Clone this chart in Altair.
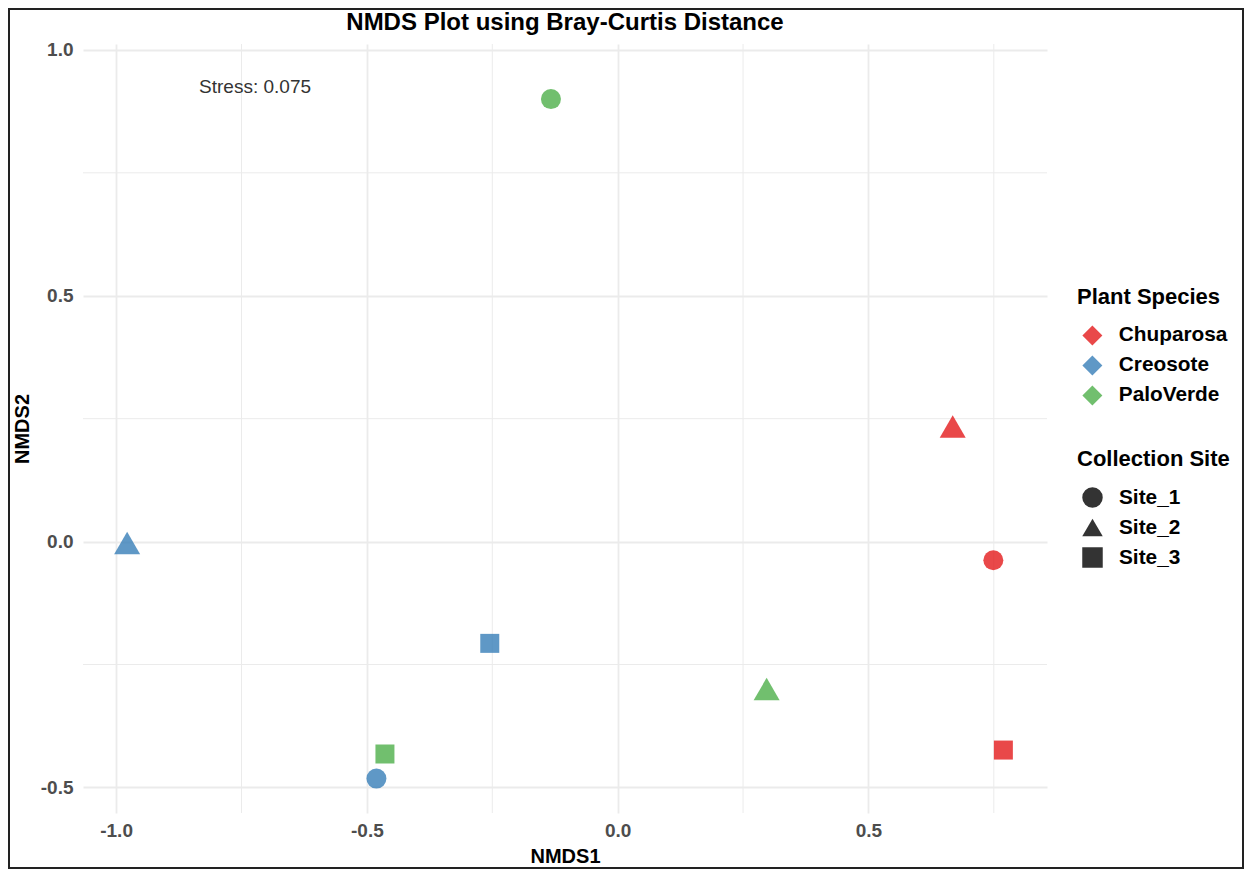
import altair as alt
import pandas as pd

# ---- data ----
species = ["Chuparosa", "Chuparosa", "Chuparosa",
           "Creosote", "Creosote", "Creosote",
           "PaloVerde", "PaloVerde", "PaloVerde"]
sites = ["Site_1", "Site_2", "Site_3"] * 3
nmds1 = [0.749, 0.668, 0.769, -0.481, -0.978, -0.255, -0.133, 0.297, -0.464]
nmds2 = [-0.038, 0.234, -0.424, -0.482, -0.003, -0.207, 0.900, -0.300, -0.432]

species_order = ["Chuparosa", "Creosote", "PaloVerde"]
species_colors = ["#E41A1C", "#377EB8", "#4DAF4A"]
site_order = ["Site_1", "Site_2", "Site_3"]
site_shapes = ["circle", "triangle-up", "square"]

x_major = [-1.0, -0.5, 0.0, 0.5]
x_minor = [-0.75, -0.25, 0.25, 0.75]
y_major = [-0.5, 0.0, 0.5, 1.0]
y_minor = [-0.25, 0.25, 0.75]
x_domain = [-1.066, 0.856]
y_domain = [-0.552, 1.012]

stress_x = [-0.723]
stress_y = [0.925]
stress_text = ["Stress: 0.075"]
title_text = ["NMDS Plot using Bray-Curtis Distance"]

FONT = "Liberation Sans"
W, H = 964, 769

df = pd.DataFrame({"NMDS1": nmds1, "NMDS2": nmds2,
                   "Species": species, "Site": sites})

xs = alt.Scale(domain=x_domain, nice=False, zero=False)
ys = alt.Scale(domain=y_domain, nice=False, zero=False)

label_expr = "(datum.value < 0 ? '-' : '') + format(abs(datum.value), '.1f')"

minor_x = alt.Chart(pd.DataFrame({"v": x_minor})).mark_rule(
    color="#EBEBEB", strokeWidth=1
).encode(x=alt.X("v:Q", scale=xs))

minor_y = alt.Chart(pd.DataFrame({"v": y_minor})).mark_rule(
    color="#EBEBEB", strokeWidth=1
).encode(y=alt.Y("v:Q", scale=ys))

points = alt.Chart(df).transform_calculate(
    sz="datum.Site == 'Site_2' ? 676 : (datum.Site == 'Site_3' ? 361 : 400)"
).mark_point(filled=True, opacity=0.8, strokeWidth=0).encode(
    x=alt.X("NMDS1:Q", scale=xs, title="NMDS1",
            axis=alt.Axis(values=x_major, labelExpr=label_expr)),
    y=alt.Y("NMDS2:Q", scale=ys, title="NMDS2",
            axis=alt.Axis(values=y_major, labelExpr=label_expr)),
    color=alt.Color("Species:N",
                    scale=alt.Scale(domain=species_order, range=species_colors),
                    legend=alt.Legend(title="Plant Species", orient="none",
                                      legendX=994, legendY=243,
                                      symbolType="diamond", symbolSize=400,
                                      symbolOpacity=0.8, symbolStrokeWidth=0)),
    shape=alt.Shape("Site:N",
                    scale=alt.Scale(domain=site_order, range=site_shapes),
                    legend=alt.Legend(title="Collection Site", orient="none",
                                      legendX=994, legendY=405,
                                      symbolSize=420, symbolFillColor="#000000",
                                      symbolStrokeWidth=0, symbolOpacity=0.8)),
    size=alt.Size("sz:Q", scale=None),
)

stress = alt.Chart(pd.DataFrame({"x": stress_x, "y": stress_y, "t": stress_text})).mark_text(
    font=FONT, fontSize=19, color="#333333", align="center", baseline="middle"
).encode(x=alt.X("x:Q", scale=xs), y=alt.Y("y:Q", scale=ys), text="t:N")

title = alt.Chart(pd.DataFrame({"t": title_text})).mark_text(
    font=FONT, fontSize=24, fontWeight="bold", color="#000000",
    align="center", baseline="alphabetic"
).encode(x=alt.value(W / 2), y=alt.value(-14), text="t:N")

border = alt.Chart(pd.DataFrame({"b": [1]})).mark_rect(
    fillOpacity=0, stroke="#222222", strokeWidth=2
).encode(x=alt.value(-74), x2=alt.value(1160), y=alt.value(-35), y2=alt.value(824))

chart = alt.layer(minor_x, minor_y, points, stress, title, border).properties(
    width=W, height=H,
    autosize=alt.AutoSizeParams(type="none"),
    padding={"left": 75, "top": 36, "right": 197, "bottom": 56},
).configure_view(stroke=None).configure_axis(
    grid=True, gridColor="#EBEBEB", gridWidth=1.8, domain=False, ticks=False,
    labelFont=FONT, labelFontSize=19, labelFontWeight="bold", labelColor="#4D4D4D",
    titleFont=FONT, titleFontSize=20, titleFontWeight="bold", titleColor="#000000",
).configure_axisX(labelPadding=8, titlePadding=6).configure_axisY(
    labelPadding=10, titlePadding=8
).configure_legend(
    titleFont=FONT, titleFontSize=22, titleFontWeight="bold", titleColor="#000000",
    labelFont=FONT, labelFontSize=20.8, labelFontWeight="bold", labelColor="#000000",
    rowPadding=8, labelOffset=16, symbolOffset=5, titlePadding=16, padding=0, offset=0
)

chart.save("out.html", embed_options={"renderer": "svg", "actions": False})
